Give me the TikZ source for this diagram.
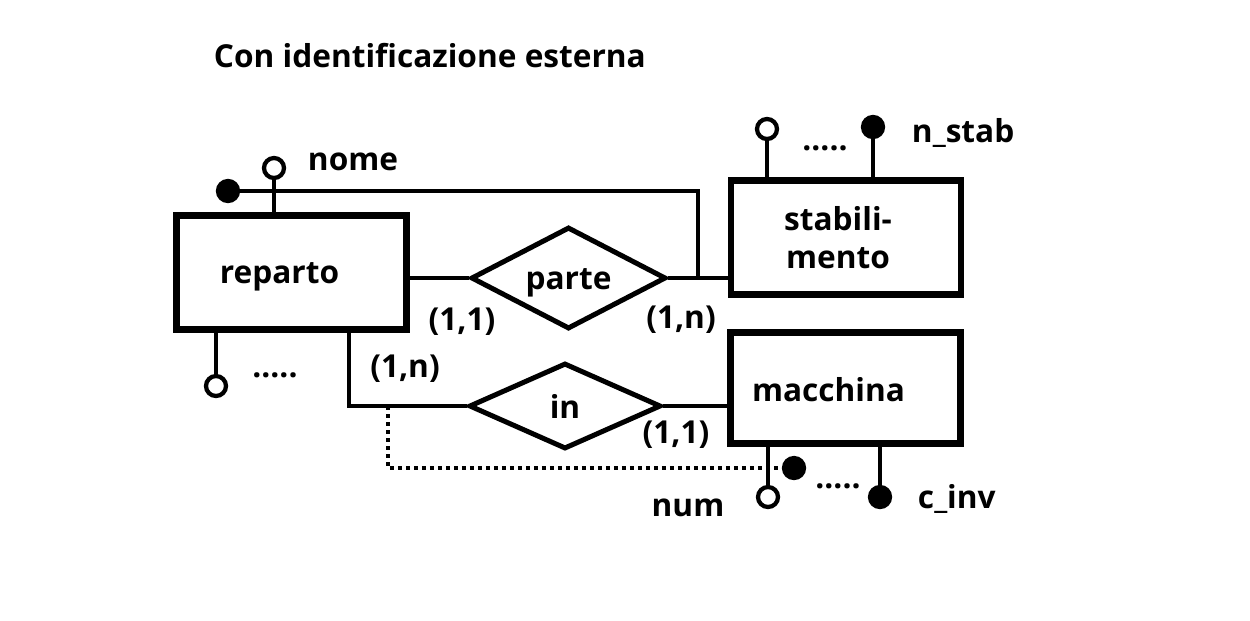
\documentclass[tikz,border=0pt]{standalone}
\usepackage{fontspec}
\setmainfont{Open Sans}
\usetikzlibrary{shapes.geometric}

\begin{document}
\begin{tikzpicture}[
x=0.02cm,y=-0.02cm,
font=\fontsize{18}{22}\selectfont\bfseries,
line width=0.085cm,
enti/.style={
  draw,
  rectangle,
  line width=0.125cm,
  minimum width=4.6cm,
  minimum height=2.28cm,
  align=center
},
rel/.style={
  draw,
  diamond,
  inner sep=0pt,
  line width=0.1cm
},
attr/.style={
  draw,
  circle,
  inner sep=0pt,
  minimum size=0.4cm
},
idattr/.style={
  attr,
  fill=black
},
idline/.style={
  dash pattern=on 0.08cm off 0.08cm
}
]
\useasboundingbox (0,0) rectangle (1250,620);

\node[anchor=west] (title) at (206,56) {Con identificazione esterna};

\node[enti,label={[name=replab,xshift=-0.24cm,yshift=-0.08cm]center:reparto}] (rep) at (291.5,272.5) {};
\node[enti,label={[name=stablab,xshift=-0.16cm,align=center]center:stabili-\\mento}] (stab) at (846,237.5) {};
\node[enti,minimum height=2.22cm,label={[name=maclab,xshift=-0.34cm,yshift=-0.04cm]center:macchina}] (mac) at (845.5,388) {};

\node[rel,minimum width=3.9cm,minimum height=2.04cm,label={[name=partelab,yshift=-0.1cm]center:parte}] (parte) at (568.5,278) {};
\node[rel,minimum width=3.84cm,minimum height=1.72cm] (in) at (565,406) {in};

\node[attr] (nome) at (274,168) {};
\node[anchor=west] (nomelab) at (300,162) {nome};
\draw (nome) -- (nome |- rep.north);
\node[idattr] (idrep) at (228,191) {};
\coordinate (kink) at (698,191);
\draw (idrep) -- (kink) -- (kink |- parte.east);
\node[attr] (repattr) at (216,386) {};
\draw (repattr) -- (repattr |- rep.south);
\node (repdots) at (275,375) {.....};

\draw (rep.east |- parte.west) -- (parte.west);
\draw (parte.east) -- (parte.east -| stab.west);
\coordinate (repin) at (349,406);
\draw (repin |- rep.south) -- (repin) -- (in.west);
\draw (in.east) -- (in.east -| mac.west);

\coordinate (idstart) at (388,406);
\node[idattr] (idmac) at (794,468) {};
\draw[idline] (idstart) |- (idmac);

\node[attr] (stabattr) at (767,129) {};
\draw (stabattr) -- (stabattr |- stab.north);
\node (stabdots) at (825,148) {.....};
\node[idattr] (nstab) at (873,127) {};
\draw (nstab) -- (nstab |- stab.north);
\node[anchor=west] (nstablab) at (904,133) {n\_stab};

\node[attr] (num) at (768,497) {};
\draw (num) -- (num |- mac.south);
\node (numlab) at (688,508) {num};
\node (macdots) at (838,486) {.....};
\node[idattr] (cinv) at (880,497) {};
\draw (cinv) -- (cinv |- mac.south);
\node[anchor=west] (cinvlab) at (910,499) {c\_inv};

\node (c1) at (462,322) {(1,1)};
\node (c2) at (681,320) {(1,n)};
\node (c3) at (405,369) {(1,n)};
\node (c4) at (676,435) {(1,1)};
\end{tikzpicture}
\end{document}
